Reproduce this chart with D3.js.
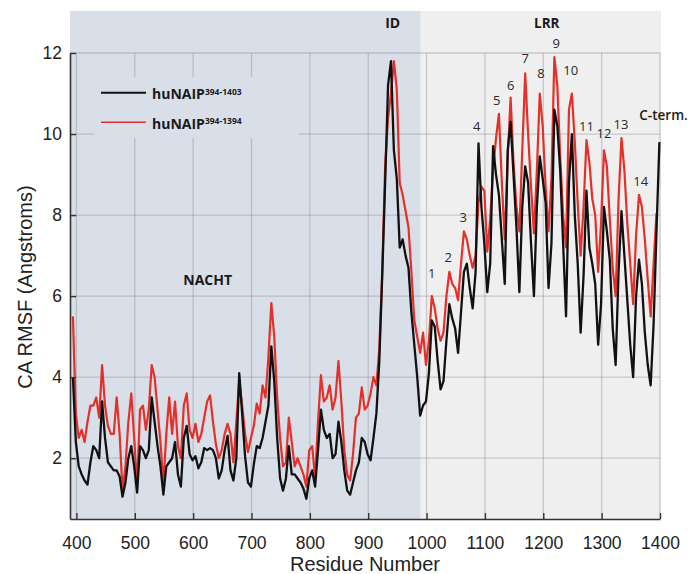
<!DOCTYPE html>
<html>
<head>
<meta charset="utf-8">
<script src="https://cdn.jsdelivr.net/npm/d3@7"></script>
<style>
  body { margin: 0; background: #fff; }
  svg { display: block; }
</style>
</head>
<body>
<svg></svg>
<script>
// residue numbers, one sample every 5 residues
var residues = d3.range(394, 1400, 5)

// huNAIP 394-1403 (black)
var rmsfLong = [
  4.0, 2.4, 1.8, 1.6, 1.45, 1.35, 1.9, 2.3, 2.2, 2.0,
  3.4, 2.5, 1.9, 1.8, 1.7, 1.7, 1.55, 1.05, 1.4, 2.0,
  2.3, 1.8, 1.15, 2.3, 2.2, 2.0, 2.2, 3.5, 2.9, 2.3,
  1.8, 1.1, 1.8, 1.9, 2.0, 2.4, 1.6, 1.3, 2.5, 2.8,
  2.1, 1.95, 2.05, 1.75, 1.9, 2.25, 2.2, 2.25, 2.2, 2.0,
  1.5, 1.7, 2.2, 2.55, 1.7, 1.45, 2.0, 4.1, 3.1, 2.05,
  1.4, 1.3, 1.85, 2.3, 2.25, 2.5, 2.9, 3.3, 4.76, 3.9,
  2.5, 1.5, 1.2, 1.5, 2.3, 1.6, 1.6, 1.5, 1.4, 1.25,
  1.0, 1.5, 1.7, 1.3, 2.2, 3.2, 2.7, 2.5, 2.6, 2.0,
  2.1, 2.9, 2.4, 1.7, 1.2, 1.1, 1.4, 1.7, 1.9, 2.5,
  2.4, 2.1, 1.95, 2.5, 3.1, 4.4, 6.5, 8.8, 11.2, 11.8,
  9.6, 8.9, 7.2, 7.4, 7.0, 6.7, 5.6, 4.8, 4.0, 3.05,
  3.3, 3.4, 4.1, 5.4, 5.25, 4.4, 3.7, 3.9, 4.9, 5.8,
  5.45, 5.2, 4.6, 5.6, 6.6, 6.8, 6.2, 5.7, 6.6, 9.77,
  8.2, 7.3, 6.1, 6.8, 9.7, 9.0, 8.5, 7.4, 6.3, 9.6,
  10.3, 9.0, 7.7, 6.1, 8.2, 9.2, 8.8, 7.3, 6.0, 8.2,
  9.45, 8.9, 8.3, 6.2, 7.3, 10.6, 10.2, 9.1, 7.3, 5.5,
  8.8, 10.0, 8.0, 6.8, 5.1, 6.5, 8.6, 7.2, 6.8, 6.3,
  4.8, 5.8, 8.2, 7.6, 6.9, 5.2, 4.3, 6.6, 8.1, 7.0,
  5.9, 4.8, 4.0, 6.0, 6.9, 6.3, 5.1, 4.3, 3.8, 5.3,
  7.6, 9.8
]

// huNAIP 394-1394 (red)
var rmsfShort = [
  5.5, 3.1, 2.5, 2.7, 2.4, 2.9, 3.3, 3.3, 3.5, 3.0,
  4.3, 3.3, 2.8, 2.6, 2.6, 3.5, 2.6, 1.2, 1.8, 2.9,
  3.6, 2.5, 1.3, 3.2, 3.3, 2.7, 3.2, 4.3, 4.0, 3.2,
  2.4, 1.35, 2.6, 3.5, 2.6, 3.4, 2.3, 2.0, 3.3, 3.6,
  2.7, 2.5, 2.85, 2.4, 2.6, 3.0, 3.4, 3.55, 2.9, 2.35,
  2.0, 2.2, 2.6, 2.85, 2.6, 1.9, 2.9, 3.95, 3.3, 2.6,
  2.15, 2.5, 2.8, 3.35, 3.1, 3.8, 3.5, 4.5, 5.83, 5.0,
  3.5, 2.5, 1.8, 1.9, 3.0, 2.4, 1.8, 2.0, 1.8, 1.6,
  1.3, 2.2, 2.3, 1.5, 2.9, 4.05, 3.4, 3.5, 3.8, 3.2,
  3.5, 4.4, 3.4, 2.2, 1.6, 1.45, 2.1, 3.0, 3.1, 3.75,
  3.2, 3.3, 3.6, 4.0, 3.8, 4.7, 6.6, 9.2, 10.4, 11.0,
  11.8, 11.1, 8.8, 8.5, 8.1, 7.7, 6.6, 5.4, 5.0, 4.6,
  5.1, 4.3, 4.9, 6.0, 5.7, 5.2, 4.9, 5.1, 6.0, 6.6,
  6.3, 6.2, 5.9, 6.8, 7.6, 7.4, 7.0, 6.7, 7.0, 8.3,
  8.7, 8.6, 7.1, 7.9, 9.1, 9.9, 10.5, 8.8, 7.4, 9.4,
  10.9, 9.3, 8.2, 7.6, 9.6, 11.5, 10.0, 8.7, 7.55, 9.1,
  11.0, 10.2, 8.7, 7.6, 8.9, 11.9, 11.2, 9.45, 8.0, 7.2,
  10.6, 11.0, 9.8, 8.3, 7.0, 8.2, 9.85, 9.3, 8.4, 8.0,
  6.6, 7.8, 9.6, 9.2, 7.9, 6.7, 6.0, 8.4, 9.9, 9.1,
  7.8, 6.8, 5.8, 7.5, 8.5, 8.2, 7.4, 6.4, 5.5, 6.8,
  8.05
]

var xTicks = [400, 500, 600, 700, 800, 900, 1000, 1100, 1200, 1300, 1400]
var yTicks = [2, 4, 6, 8, 10, 12]

// repeat annotations (residue, rmsf)
var repeatNames = ["1", "2", "3", "4", "5", "6", "7", "8", "9", "10", "11", "12", "13", "14"]
var repeatRes = [1009, 1037, 1063, 1086, 1120, 1144, 1169, 1196, 1222, 1247, 1274, 1304, 1333, 1367]
var repeatVal = [6.57, 6.97, 7.95, 10.2, 10.83, 11.2, 11.87, 11.5, 12.25, 11.57, 10.19, 10.02, 10.23, 8.83]

var width = 688
var height = 574
var plotLeft = 70, plotRight = 660, plotTop = 53, plotBottom = 519
var bandTop = 11
var domainSplit = 990

var svg = d3.select("svg")
  .attr("width", width)
  .attr("height", height)

var x = d3.scaleLinear().domain([389, 1400]).range([plotLeft, plotRight])
var y = d3.scaleLinear().domain([0.5, 12]).range([plotBottom, plotTop])

// shaded domains
svg.append("rect")
  .attr("x", plotLeft).attr("y", bandTop)
  .attr("width", x(domainSplit) - plotLeft).attr("height", plotBottom - bandTop)
  .attr("fill", "#d9dfe9")
svg.append("rect")
  .attr("x", x(domainSplit)).attr("y", bandTop)
  .attr("width", plotRight + 1 - x(domainSplit)).attr("height", plotBottom - bandTop)
  .attr("fill", "#efefef")

// grid
var grid = svg.append("g")
  .attr("stroke", "#707070")
  .attr("stroke-opacity", 0.3)
  .attr("stroke-width", 1.3)
grid.selectAll("line.v")
  .data(xTicks)
  .enter().append("line")
  .attr("x1", function (d) { return x(d) })
  .attr("x2", function (d) { return x(d) })
  .attr("y1", y(12)).attr("y2", plotBottom)
grid.selectAll("line.h")
  .data(yTicks)
  .enter().append("line")
  .attr("x1", plotLeft).attr("x2", plotRight)
  .attr("y1", function (d) { return y(d) })
  .attr("y2", function (d) { return y(d) })

// legend box hides the grid behind it
svg.append("rect")
  .attr("x", 94).attr("y", 77).attr("width", 205).attr("height", 61)
  .attr("fill", "#d9dfe9")

var line = d3.line()
  .x(function (d) { return x(d[0]) })
  .y(function (d) { return y(d[1]) })

svg.append("path")
  .datum(d3.zip(residues, rmsfShort))
  .attr("fill", "none")
  .attr("stroke", "#e2312a")
  .attr("stroke-width", 2.2)
  .attr("stroke-linejoin", "round")
  .attr("d", line)

svg.append("path")
  .datum(d3.zip(residues, rmsfLong))
  .attr("fill", "none")
  .attr("stroke", "#111")
  .attr("stroke-width", 2.3)
  .attr("stroke-linejoin", "round")
  .attr("d", line)

// axes
var axisFont = "'Liberation Sans', Arial, Helvetica, sans-serif"

svg.append("g")
  .attr("transform", "translate(" + plotLeft + ",0)")
  .call(d3.axisLeft(y).tickValues(yTicks).tickSize(-6).tickSizeOuter(0).tickPadding(8))
svg.append("g")
  .attr("transform", "translate(0," + plotBottom + ")")
  .call(d3.axisBottom(x).tickValues(xTicks).tickFormat(d3.format("d"))
    .tickSize(-6).tickSizeOuter(0).tickPadding(18))

svg.selectAll(".domain").attr("stroke", "#333").attr("stroke-width", 1.6)
svg.selectAll(".tick line").attr("stroke", "#333").attr("stroke-width", 1.4)
svg.selectAll(".tick text")
  .attr("font-family", axisFont)
  .attr("font-size", 17.5)
  .attr("fill", "#222")

svg.append("text")
  .attr("x", (plotLeft + plotRight) / 2).attr("y", 571)
  .attr("text-anchor", "middle")
  .attr("font-family", axisFont).attr("font-size", 20).attr("fill", "#222")
  .text("Residue Number")

svg.append("text")
  .attr("transform", "translate(32,287) rotate(-90)")
  .attr("text-anchor", "middle")
  .attr("font-family", axisFont).attr("font-size", 20).attr("fill", "#222")
  .text("CA RMSF (Angstroms)")

// domain labels
var labelFont = "'Open Sans', Lato, sans-serif"
svg.append("text")
  .attr("x", x(942)).attr("y", 27.5)
  .attr("text-anchor", "middle")
  .attr("font-family", labelFont).attr("font-weight", 700).attr("font-size", 14).attr("fill", "#1a1a1a")
  .text("ID")
svg.append("text")
  .attr("x", x(1206)).attr("y", 27.5)
  .attr("text-anchor", "middle")
  .attr("font-family", labelFont).attr("font-weight", 700).attr("font-size", 13.5).attr("fill", "#1a1a1a")
  .text("LRR")
svg.append("text")
  .attr("x", x(625)).attr("y", y(6.41))
  .attr("dy", "0.36em")
  .attr("text-anchor", "middle")
  .attr("font-family", labelFont).attr("font-weight", 700).attr("font-size", 14).attr("fill", "#1a1a1a")
  .text("NACHT")

// LRR repeat numbers
svg.selectAll("text.rep")
  .data(repeatNames)
  .enter().append("text")
  .attr("class", "rep")
  .attr("x", function (d, i) { return x(repeatRes[i]) })
  .attr("y", function (d, i) { return y(repeatVal[i]) })
  .attr("dy", "0.36em")
  .attr("text-anchor", "middle")
  .attr("font-family", labelFont).attr("font-size", 13).attr("fill", "#2a2a2a")
  .text(function (d) { return d })

svg.append("text")
  .attr("x", x(1406)).attr("y", y(10.47))
  .attr("dy", "0.36em")
  .attr("text-anchor", "middle")
  .attr("font-family", labelFont).attr("font-weight", 600).attr("font-size", 13.5).attr("fill", "#1a1a1a")
  .text("C-term.")

// legend
var legend = [
  { color: "#111", sup: "394-1403", w: 2 },
  { color: "#e2312a", sup: "394-1394", w: 1.6 }
]
var lg = svg.selectAll("g.legend")
  .data(legend)
  .enter().append("g")
  .attr("transform", function (d, i) { return "translate(0," + (92.7 + i * 29.6) + ")" })
lg.append("line")
  .attr("x1", 101).attr("x2", 146)
  .attr("stroke", function (d) { return d.color })
  .attr("stroke-width", function (d) { return d.w })
var lt = lg.append("text")
  .attr("x", 152).attr("y", 6.6)
  .attr("font-family", labelFont).attr("font-weight", 700).attr("font-size", 14).attr("fill", "#1a1a1a")
lt.append("tspan").text("huNAIP")
lt.append("tspan")
  .attr("dy", -4.5)
  .attr("font-size", 8.5)
  .text(function (d) { return d.sup })
</script>
</body>
</html>
